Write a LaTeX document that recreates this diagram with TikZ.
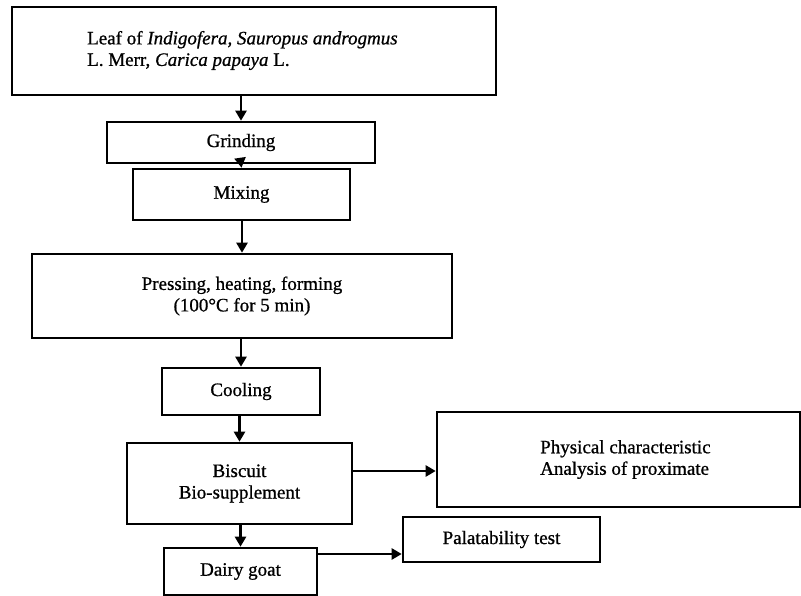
\documentclass[tikz,border=0pt]{standalone}
\usepackage{fontspec}
\setmainfont{Liberation Serif}[FakeBold=0.8]
\usetikzlibrary{arrows.meta}
\begin{document}
\begin{tikzpicture}[x=1pt,y=-1pt,
  box/.style={draw, line width=2.6pt, inner sep=0pt, anchor=center},
  txt/.style={font=\fontsize{19}{21.5}\selectfont, inner sep=0pt, align=center},
  arr/.style={line width=2.4pt, -{Triangle[length=10pt,width=11pt]}}]
\useasboundingbox (0,0) rectangle (801,596);
\fill[white] (0,0) rectangle (801,596);
% boxes
\node[box, minimum width=484pt, minimum height=88pt] (leaf) at (254,51) {};
\node[txt, anchor=west, align=left] (leaftext) at (87,50.5)
  {Leaf of \textit{Indigofera, Sauropus androgmus}\\ L. Merr, \textit{Carica papaya} L.};
\node[box, txt, minimum width=268pt, minimum height=41pt] (grind) at (241,142.5) {Grinding};
\node[box, txt, minimum width=217pt, minimum height=51pt] (mix) at (241.5,194.5) {Mixing};
\node[box, txt, minimum width=420pt, minimum height=84pt] (press) at (242,296)
  {Pressing, heating, forming\\(100°C for 5 min)};
\node[box, txt, minimum width=158pt, minimum height=47pt] (cool) at (241,391.5) {Cooling};
\node[box, txt, minimum width=225pt, minimum height=81pt] (bisc) at (239.5,483.5)
  {Biscuit\\Bio-supplement};
\node[box, minimum width=363pt, minimum height=95pt] (phys) at (618.5,459.5) {};
\node[txt, anchor=west, align=left] (phystext) at (540,459.5)
  {Physical characteristic\\Analysis of proximate};
\node[box, txt, minimum width=197pt, minimum height=45pt] (pal) at (501.5,539.5) {Palatability test};
\node[box, txt, minimum width=153pt, minimum height=47pt] (goat) at (240.5,571.5) {Dairy goat};
% arrows
\coordinate (y1) at (0,471);
\coordinate (y2) at (0,554);
\draw[arr] (leaf.south -| grind.north) -- (grind.north);
\draw[arr] (grind.south) -- (mix.north);
\draw[arr] (mix.south -| press.north) -- (press.north);
\draw[arr] (press.south -| cool.north) -- (cool.north);
\draw[arr] (cool.south -| bisc.north) -- (bisc.north);
\draw[arr] (bisc.south -| goat.north) -- (goat.north);
\draw[arr] (bisc.east |- y1) -- (phys.west |- y1);
\draw[arr] (goat.east |- y2) -- (pal.west |- y2);
\end{tikzpicture}
\end{document}
